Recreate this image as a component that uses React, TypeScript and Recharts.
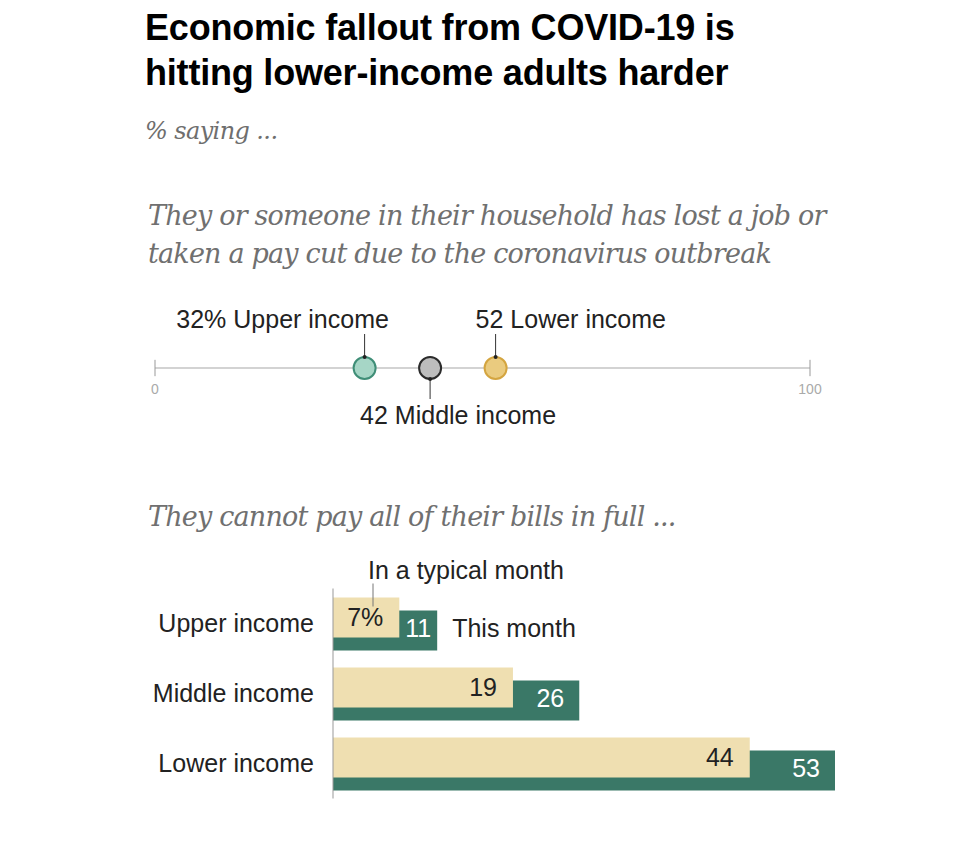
import {
  ScatterChart,
  Scatter,
  BarChart,
  Bar,
  XAxis,
  YAxis,
  ReferenceLine,
  LabelList,
} from "recharts";

// dot plot: lost a job or taken a pay cut
const dotGroups = ["Upper income", "Middle income", "Lower income"];
const dotValues = [32, 42, 52];
const dotLabels = ["32% Upper income", "42 Middle income", "52 Lower income"];

// bars: cannot pay all bills in full
const barGroups = ["Upper income", "Middle income", "Lower income"];
const typicalMonth = [7, 19, 44];
const thisMonth = [11, 26, 53];

const sans = "'Liberation Sans', Arial, sans-serif";
const serif = "'DejaVu Serif', Georgia, serif";

const dotStyle: Record<string, { fill: string; stroke: string; above: boolean; dx: number; anchor: "start" | "middle" | "end" }> = {
  "Upper income": { fill: "#a6d6c6", stroke: "#3f8e77", above: true, dx: -82, anchor: "middle" },
  "Middle income": { fill: "#bdbdbd", stroke: "#2b2b2b", above: false, dx: -70, anchor: "start" },
  "Lower income": { fill: "#eacb7f", stroke: "#d4a540", above: true, dx: -20, anchor: "start" },
};

const dotData = dotGroups.map((name, i) => ({ name, value: dotValues[i], y: 0, label: dotLabels[i] }));
const barData = barGroups.map((name, i) => ({ name, typical: typicalMonth[i], now: thisMonth[i] }));

function Dot(props: any) {
  const { cx, cy, payload } = props;
  const s = dotStyle[payload.name];
  const r = 11;
  const edge = s.above ? cy - r : cy + r;
  const end = s.above ? cy - 34 : cy + 31;
  const textY = s.above ? cy - 40 : cy + 56;
  return (
    <g>
      <line x1={cx} x2={cx} y1={edge} y2={end} stroke="#333" strokeWidth={1} />
      <circle cx={cx} cy={cy} r={r} fill={s.fill} stroke={s.stroke} strokeWidth={2} />
      <circle cx={cx} cy={edge} r={2} fill="#222" />
      <text x={cx + s.dx} y={textY} textAnchor={s.anchor} fontSize={25} fill="#222" fontFamily={sans}>
        {payload.label}
      </text>
    </g>
  );
}

function TypicalLabel(props: any) {
  const { x, y, width, height, value, index } = props;
  return (
    <g>
      {index === 0 && (
        <g>
          <text x={x + 35} y={y - 19} fontSize={25} fill="#222" fontFamily={sans}>
            In a typical month
          </text>
          <line x1={x + 40} x2={x + 40} y1={y - 14} y2={y + 9} stroke="#777" strokeWidth={1} />
        </g>
      )}
      <text
        x={x + width - 16}
        y={y + height / 2 + 2}
        textAnchor="end"
        dominantBaseline="middle"
        fontSize={25}
        fill="#222"
        fontFamily={sans}
      >
        {index === 0 ? `${value}%` : value}
      </text>
    </g>
  );
}

function NowLabel(props: any) {
  const { x, y, width, height, value, index } = props;
  const pad = index === 0 ? 6 : 15;
  return (
    <g>
      <text
        x={x + width - pad}
        y={y + height / 2}
        textAnchor="end"
        dominantBaseline="middle"
        fontSize={25}
        fill="#fff"
        fontFamily={sans}
      >
        {value}
      </text>
      {index === 0 && (
        <text x={x + width + 15} y={y + height / 2} dominantBaseline="middle" fontSize={25} fill="#222" fontFamily={sans}>
          This month
        </text>
      )}
    </g>
  );
}

const subStyle = {
  position: "absolute" as const,
  left: 148,
  fontFamily: serif,
  fontStyle: "italic",
  fontSize: 27,
  letterSpacing: "-0.8px",
  lineHeight: "38px",
  color: "#707070",
  whiteSpace: "nowrap" as const,
};

export default function App() {
  return (
    <div style={{ position: "absolute", left: 0, top: 0, width: 960, height: 841, background: "#fff", overflow: "hidden" }}>
      <div
        style={{
          position: "absolute",
          left: 145,
          top: 5,
          fontFamily: sans,
          fontWeight: 700,
          fontSize: 36,
          letterSpacing: "-0.2px",
          lineHeight: "45px",
          color: "#000",
          whiteSpace: "nowrap",
        }}
      >
        Economic fallout from COVID-19 is
        <br />
        hitting lower-income adults harder
      </div>
      <div
        style={{
          position: "absolute",
          left: 145,
          top: 116,
          fontFamily: serif,
          fontStyle: "italic",
          fontSize: 24,
          letterSpacing: "-0.6px",
          lineHeight: "30px",
          color: "#6e6e6e",
        }}
      >
        % saying ...
      </div>
      <div style={{ ...subStyle, top: 197 }}>
        They or someone in their household has lost a job or
        <br />
        taken a pay cut due to the coronavirus outbreak
      </div>

      <div style={{ position: "absolute", left: 0, top: 300 }}>
        <ScatterChart width={960} height={150} margin={{ top: 0, right: 150, bottom: 14, left: 155 }}>
          <XAxis type="number" dataKey="value" domain={[0, 100]} hide />
          <YAxis type="number" dataKey="y" domain={[-1, 1]} hide />
          <ReferenceLine y={0} stroke="#c4c4c4" strokeWidth={1.5} />
          <ReferenceLine
            segment={[{ x: 0, y: -0.12 }, { x: 0, y: 0.12 }]}
            stroke="#999"
            label={{ value: "0", position: "bottom", offset: 8, fill: "#aaa", fontSize: 14, fontFamily: sans }}
          />
          <ReferenceLine
            segment={[{ x: 100, y: -0.12 }, { x: 100, y: 0.12 }]}
            stroke="#999"
            label={{ value: "100", position: "bottom", offset: 8, fill: "#aaa", fontSize: 14, fontFamily: sans }}
          />
          <Scatter data={dotData} shape={<Dot />} isAnimationActive={false} />
        </ScatterChart>
      </div>

      <div style={{ ...subStyle, top: 498 }}>They cannot pay all of their bills in full ...</div>

      <div style={{ position: "absolute", left: 0, top: 540 }}>
        <BarChart
          width={960}
          height={270}
          data={barData}
          layout="vertical"
          barGap={-53}
          margin={{ top: 48.5, right: 125, bottom: 11.5, left: 0 }}
        >
          <XAxis type="number" domain={[0, 53]} hide />
          <YAxis
            type="category"
            dataKey="name"
            width={333}
            tickLine={false}
            tickSize={0}
            tickMargin={19}
            axisLine={{ stroke: "#999" }}
            tick={{ fontSize: 25, fill: "#222", fontFamily: sans }}
          />
          <Bar dataKey="now" fill="#3a7867" barSize={40} isAnimationActive={false}>
            <LabelList dataKey="now" content={<NowLabel />} />
          </Bar>
          <Bar dataKey="typical" fill="#efdfb1" barSize={40} isAnimationActive={false}>
            <LabelList dataKey="typical" content={<TypicalLabel />} />
          </Bar>
        </BarChart>
      </div>
    </div>
  );
}
